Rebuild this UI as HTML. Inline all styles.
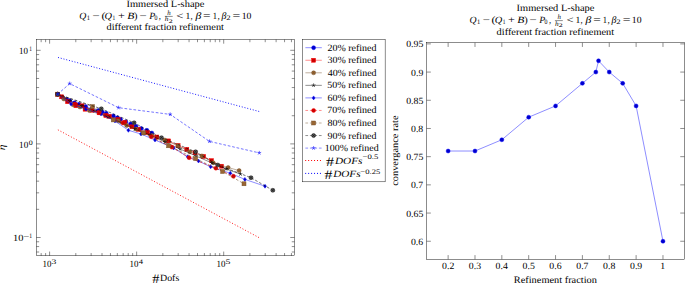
<!DOCTYPE html>
<html><head><meta charset="utf-8"><style>
html,body{margin:0;padding:0;background:#fff;}
svg{display:block;}
text{fill:#000;font-family:"Liberation Serif",serif;text-rendering:geometricPrecision;}
</style></head><body>
<svg width="685" height="283" viewBox="0 0 685 283">
<line x1="57.9" y1="129.8" x2="259.0" y2="237.6" stroke="#ff0000" stroke-width="1.0" stroke-opacity="0.9" stroke-dasharray="1.0 1.95"/>
<line x1="58.0" y1="57.45" x2="259.2" y2="111.5" stroke="#0000ff" stroke-width="1.0" stroke-opacity="0.9" stroke-dasharray="1.0 1.84"/>
<polyline points="57.7,94.2 62.5,97.3 66.5,99.3 69.7,100.6 74.5,102.8 78.9,104.3 85.6,106.6 92,108.7 98.2,110.6 102.2,111.9 106.2,113.2 113.3,115.9 117.3,117.8 120.4,119.3 125.8,121.8 130.6,124.1 135.9,126.3 141.2,128.5 146.9,130.3 151.8,133" fill="none" stroke="#0000ff" stroke-width="0.45" />
<circle cx="57.7" cy="94.2" r="2.0" fill="#0000cc" stroke="#0000ff" stroke-width="0.45"/>
<circle cx="62.5" cy="97.3" r="2.0" fill="#0000cc" stroke="#0000ff" stroke-width="0.45"/>
<circle cx="66.5" cy="99.3" r="2.0" fill="#0000cc" stroke="#0000ff" stroke-width="0.45"/>
<circle cx="69.7" cy="100.6" r="2.0" fill="#0000cc" stroke="#0000ff" stroke-width="0.45"/>
<circle cx="74.5" cy="102.8" r="2.0" fill="#0000cc" stroke="#0000ff" stroke-width="0.45"/>
<circle cx="78.9" cy="104.3" r="2.0" fill="#0000cc" stroke="#0000ff" stroke-width="0.45"/>
<circle cx="85.6" cy="106.6" r="2.0" fill="#0000cc" stroke="#0000ff" stroke-width="0.45"/>
<circle cx="92" cy="108.7" r="2.0" fill="#0000cc" stroke="#0000ff" stroke-width="0.45"/>
<circle cx="98.2" cy="110.6" r="2.0" fill="#0000cc" stroke="#0000ff" stroke-width="0.45"/>
<circle cx="102.2" cy="111.9" r="2.0" fill="#0000cc" stroke="#0000ff" stroke-width="0.45"/>
<circle cx="106.2" cy="113.2" r="2.0" fill="#0000cc" stroke="#0000ff" stroke-width="0.45"/>
<circle cx="113.3" cy="115.9" r="2.0" fill="#0000cc" stroke="#0000ff" stroke-width="0.45"/>
<circle cx="117.3" cy="117.8" r="2.0" fill="#0000cc" stroke="#0000ff" stroke-width="0.45"/>
<circle cx="120.4" cy="119.3" r="2.0" fill="#0000cc" stroke="#0000ff" stroke-width="0.45"/>
<circle cx="125.8" cy="121.8" r="2.0" fill="#0000cc" stroke="#0000ff" stroke-width="0.45"/>
<circle cx="130.6" cy="124.1" r="2.0" fill="#0000cc" stroke="#0000ff" stroke-width="0.45"/>
<circle cx="135.9" cy="126.3" r="2.0" fill="#0000cc" stroke="#0000ff" stroke-width="0.45"/>
<circle cx="141.2" cy="128.5" r="2.0" fill="#0000cc" stroke="#0000ff" stroke-width="0.45"/>
<circle cx="146.9" cy="130.3" r="2.0" fill="#0000cc" stroke="#0000ff" stroke-width="0.45"/>
<circle cx="151.8" cy="133" r="2.0" fill="#0000cc" stroke="#0000ff" stroke-width="0.45"/>
<polyline points="57.7,94.2 61.7,96.8 67.5,101.7 75.8,105.7 82,105.8 85.1,109.2 92,110.2 99.1,112.8 105.8,115.5 109.3,116.3 118.1,119.5 124.9,122.4 131.9,126.8 138.5,129.4 147.4,132.5 156.8,137 168.6,140.9 178.1,145.5 186.8,149.4 195,152.8 203.6,156.4 211.5,160.6 221.5,166.2" fill="none" stroke="#ff0000" stroke-width="0.45" />
<rect x="55.7" y="92.2" width="4.0" height="4.0" fill="#cc0000" stroke="#ff0000" stroke-width="0.45"/>
<rect x="59.7" y="94.8" width="4.0" height="4.0" fill="#cc0000" stroke="#ff0000" stroke-width="0.45"/>
<rect x="65.5" y="99.7" width="4.0" height="4.0" fill="#cc0000" stroke="#ff0000" stroke-width="0.45"/>
<rect x="73.8" y="103.7" width="4.0" height="4.0" fill="#cc0000" stroke="#ff0000" stroke-width="0.45"/>
<rect x="80" y="103.8" width="4.0" height="4.0" fill="#cc0000" stroke="#ff0000" stroke-width="0.45"/>
<rect x="83.1" y="107.2" width="4.0" height="4.0" fill="#cc0000" stroke="#ff0000" stroke-width="0.45"/>
<rect x="90" y="108.2" width="4.0" height="4.0" fill="#cc0000" stroke="#ff0000" stroke-width="0.45"/>
<rect x="97.1" y="110.8" width="4.0" height="4.0" fill="#cc0000" stroke="#ff0000" stroke-width="0.45"/>
<rect x="103.8" y="113.5" width="4.0" height="4.0" fill="#cc0000" stroke="#ff0000" stroke-width="0.45"/>
<rect x="107.3" y="114.3" width="4.0" height="4.0" fill="#cc0000" stroke="#ff0000" stroke-width="0.45"/>
<rect x="116.1" y="117.5" width="4.0" height="4.0" fill="#cc0000" stroke="#ff0000" stroke-width="0.45"/>
<rect x="122.9" y="120.4" width="4.0" height="4.0" fill="#cc0000" stroke="#ff0000" stroke-width="0.45"/>
<rect x="129.9" y="124.8" width="4.0" height="4.0" fill="#cc0000" stroke="#ff0000" stroke-width="0.45"/>
<rect x="136.5" y="127.4" width="4.0" height="4.0" fill="#cc0000" stroke="#ff0000" stroke-width="0.45"/>
<rect x="145.4" y="130.5" width="4.0" height="4.0" fill="#cc0000" stroke="#ff0000" stroke-width="0.45"/>
<rect x="154.8" y="135" width="4.0" height="4.0" fill="#cc0000" stroke="#ff0000" stroke-width="0.45"/>
<rect x="166.6" y="138.9" width="4.0" height="4.0" fill="#cc0000" stroke="#ff0000" stroke-width="0.45"/>
<rect x="176.1" y="143.5" width="4.0" height="4.0" fill="#cc0000" stroke="#ff0000" stroke-width="0.45"/>
<rect x="184.8" y="147.4" width="4.0" height="4.0" fill="#cc0000" stroke="#ff0000" stroke-width="0.45"/>
<rect x="193" y="150.8" width="4.0" height="4.0" fill="#cc0000" stroke="#ff0000" stroke-width="0.45"/>
<rect x="201.6" y="154.4" width="4.0" height="4.0" fill="#cc0000" stroke="#ff0000" stroke-width="0.45"/>
<rect x="209.5" y="158.6" width="4.0" height="4.0" fill="#cc0000" stroke="#ff0000" stroke-width="0.45"/>
<rect x="219.5" y="164.2" width="4.0" height="4.0" fill="#cc0000" stroke="#ff0000" stroke-width="0.45"/>
<polyline points="57.7,94.2 63.9,99 73.2,104.8 80,107 89.4,110.6 118.1,120.8 126.6,125.5 136,129 143.5,132.9 152,135.5 164.7,140 178,145.8 189.8,151.8 201.8,155.9 213.2,162.7 228.1,167.5 239.1,170.6" fill="none" stroke="#734d26" stroke-width="0.45" />
<circle cx="57.7" cy="94.2" r="2.0" fill="#996633" stroke="#734d26" stroke-width="0.45"/>
<path d="M56.29,92.79L59.11,95.61M56.29,95.61L59.11,92.79" stroke="#734d26" stroke-width="0.45"/>
<circle cx="63.9" cy="99" r="2.0" fill="#996633" stroke="#734d26" stroke-width="0.45"/>
<path d="M62.49,97.59L65.31,100.41M62.49,100.41L65.31,97.59" stroke="#734d26" stroke-width="0.45"/>
<circle cx="73.2" cy="104.8" r="2.0" fill="#996633" stroke="#734d26" stroke-width="0.45"/>
<path d="M71.79,103.39L74.61,106.21M71.79,106.21L74.61,103.39" stroke="#734d26" stroke-width="0.45"/>
<circle cx="80" cy="107" r="2.0" fill="#996633" stroke="#734d26" stroke-width="0.45"/>
<path d="M78.59,105.59L81.41,108.41M78.59,108.41L81.41,105.59" stroke="#734d26" stroke-width="0.45"/>
<circle cx="89.4" cy="110.6" r="2.0" fill="#996633" stroke="#734d26" stroke-width="0.45"/>
<path d="M87.99,109.19L90.81,112.01M87.99,112.01L90.81,109.19" stroke="#734d26" stroke-width="0.45"/>
<circle cx="118.1" cy="120.8" r="2.0" fill="#996633" stroke="#734d26" stroke-width="0.45"/>
<path d="M116.69,119.39L119.51,122.21M116.69,122.21L119.51,119.39" stroke="#734d26" stroke-width="0.45"/>
<circle cx="126.6" cy="125.5" r="2.0" fill="#996633" stroke="#734d26" stroke-width="0.45"/>
<path d="M125.19,124.09L128.01,126.91M125.19,126.91L128.01,124.09" stroke="#734d26" stroke-width="0.45"/>
<circle cx="136" cy="129" r="2.0" fill="#996633" stroke="#734d26" stroke-width="0.45"/>
<path d="M134.59,127.59L137.41,130.41M134.59,130.41L137.41,127.59" stroke="#734d26" stroke-width="0.45"/>
<circle cx="143.5" cy="132.9" r="2.0" fill="#996633" stroke="#734d26" stroke-width="0.45"/>
<path d="M142.09,131.49L144.91,134.31M142.09,134.31L144.91,131.49" stroke="#734d26" stroke-width="0.45"/>
<circle cx="152" cy="135.5" r="2.0" fill="#996633" stroke="#734d26" stroke-width="0.45"/>
<path d="M150.59,134.09L153.41,136.91M150.59,136.91L153.41,134.09" stroke="#734d26" stroke-width="0.45"/>
<circle cx="164.7" cy="140" r="2.0" fill="#996633" stroke="#734d26" stroke-width="0.45"/>
<path d="M163.29,138.59L166.11,141.41M163.29,141.41L166.11,138.59" stroke="#734d26" stroke-width="0.45"/>
<circle cx="178" cy="145.8" r="2.0" fill="#996633" stroke="#734d26" stroke-width="0.45"/>
<path d="M176.59,144.39L179.41,147.21M176.59,147.21L179.41,144.39" stroke="#734d26" stroke-width="0.45"/>
<circle cx="189.8" cy="151.8" r="2.0" fill="#996633" stroke="#734d26" stroke-width="0.45"/>
<path d="M188.39,150.39L191.21,153.21M188.39,153.21L191.21,150.39" stroke="#734d26" stroke-width="0.45"/>
<circle cx="201.8" cy="155.9" r="2.0" fill="#996633" stroke="#734d26" stroke-width="0.45"/>
<path d="M200.39,154.49L203.21,157.31M200.39,157.31L203.21,154.49" stroke="#734d26" stroke-width="0.45"/>
<circle cx="213.2" cy="162.7" r="2.0" fill="#996633" stroke="#734d26" stroke-width="0.45"/>
<path d="M211.79,161.29L214.61,164.11M211.79,164.11L214.61,161.29" stroke="#734d26" stroke-width="0.45"/>
<circle cx="228.1" cy="167.5" r="2.0" fill="#996633" stroke="#734d26" stroke-width="0.45"/>
<path d="M226.69,166.09L229.51,168.91M226.69,168.91L229.51,166.09" stroke="#734d26" stroke-width="0.45"/>
<circle cx="239.1" cy="170.6" r="2.0" fill="#996633" stroke="#734d26" stroke-width="0.45"/>
<path d="M237.69,169.19L240.51,172.01M237.69,172.01L240.51,169.19" stroke="#734d26" stroke-width="0.45"/>
<polyline points="57.7,94.2 70,101 82,106 95,111 108,117 121,122.5 135,129 150,135 165,142 180,149 196,156 212,163 226,169 240.5,174.1" fill="none" stroke="#000000" stroke-width="0.45" />
<path d="M57.7,94.2L57.7,92.2M57.7,94.2L55.8,93.58M57.7,94.2L56.52,95.82M57.7,94.2L58.88,95.82M57.7,94.2L59.6,93.58" stroke="#000000" stroke-width="0.5850000000000001" fill="none"/>
<path d="M70,101L70,99M70,101L68.1,100.38M70,101L68.82,102.62M70,101L71.18,102.62M70,101L71.9,100.38" stroke="#000000" stroke-width="0.5850000000000001" fill="none"/>
<path d="M82,106L82,104M82,106L80.1,105.38M82,106L80.82,107.62M82,106L83.18,107.62M82,106L83.9,105.38" stroke="#000000" stroke-width="0.5850000000000001" fill="none"/>
<path d="M95,111L95,109M95,111L93.1,110.38M95,111L93.82,112.62M95,111L96.18,112.62M95,111L96.9,110.38" stroke="#000000" stroke-width="0.5850000000000001" fill="none"/>
<path d="M108,117L108,115M108,117L106.1,116.38M108,117L106.82,118.62M108,117L109.18,118.62M108,117L109.9,116.38" stroke="#000000" stroke-width="0.5850000000000001" fill="none"/>
<path d="M121,122.5L121,120.5M121,122.5L119.1,121.88M121,122.5L119.82,124.12M121,122.5L122.18,124.12M121,122.5L122.9,121.88" stroke="#000000" stroke-width="0.5850000000000001" fill="none"/>
<path d="M135,129L135,127M135,129L133.1,128.38M135,129L133.82,130.62M135,129L136.18,130.62M135,129L136.9,128.38" stroke="#000000" stroke-width="0.5850000000000001" fill="none"/>
<path d="M150,135L150,133M150,135L148.1,134.38M150,135L148.82,136.62M150,135L151.18,136.62M150,135L151.9,134.38" stroke="#000000" stroke-width="0.5850000000000001" fill="none"/>
<path d="M165,142L165,140M165,142L163.1,141.38M165,142L163.82,143.62M165,142L166.18,143.62M165,142L166.9,141.38" stroke="#000000" stroke-width="0.5850000000000001" fill="none"/>
<path d="M180,149L180,147M180,149L178.1,148.38M180,149L178.82,150.62M180,149L181.18,150.62M180,149L181.9,148.38" stroke="#000000" stroke-width="0.5850000000000001" fill="none"/>
<path d="M196,156L196,154M196,156L194.1,155.38M196,156L194.82,157.62M196,156L197.18,157.62M196,156L197.9,155.38" stroke="#000000" stroke-width="0.5850000000000001" fill="none"/>
<path d="M212,163L212,161M212,163L210.1,162.38M212,163L210.82,164.62M212,163L213.18,164.62M212,163L213.9,162.38" stroke="#000000" stroke-width="0.5850000000000001" fill="none"/>
<path d="M226,169L226,167M226,169L224.1,168.38M226,169L224.82,170.62M226,169L227.18,170.62M226,169L227.9,168.38" stroke="#000000" stroke-width="0.5850000000000001" fill="none"/>
<path d="M240.5,174.1L240.5,172.1M240.5,174.1L238.6,173.48M240.5,174.1L239.32,175.72M240.5,174.1L241.68,175.72M240.5,174.1L242.4,173.48" stroke="#000000" stroke-width="0.5850000000000001" fill="none"/>
<polyline points="57.7,94.2 71,103.9 86,109 101,114 115,121 128.4,130.3 141,134 155,140 173.6,148 187.7,156.8 198.5,161 210.6,166.8 230.3,173.2 244.9,179.4 265,186.2" fill="none" stroke="#0000ff" stroke-width="0.45" />
<path d="M57.7,92.2L59.2,94.2L57.7,96.2L56.2,94.2Z" fill="#0000cc" stroke="#0000ff" stroke-width="0.45"/>
<path d="M71,101.9L72.5,103.9L71,105.9L69.5,103.9Z" fill="#0000cc" stroke="#0000ff" stroke-width="0.45"/>
<path d="M86,107L87.5,109L86,111L84.5,109Z" fill="#0000cc" stroke="#0000ff" stroke-width="0.45"/>
<path d="M101,112L102.5,114L101,116L99.5,114Z" fill="#0000cc" stroke="#0000ff" stroke-width="0.45"/>
<path d="M115,119L116.5,121L115,123L113.5,121Z" fill="#0000cc" stroke="#0000ff" stroke-width="0.45"/>
<path d="M128.4,128.3L129.9,130.3L128.4,132.3L126.9,130.3Z" fill="#0000cc" stroke="#0000ff" stroke-width="0.45"/>
<path d="M141,132L142.5,134L141,136L139.5,134Z" fill="#0000cc" stroke="#0000ff" stroke-width="0.45"/>
<path d="M155,138L156.5,140L155,142L153.5,140Z" fill="#0000cc" stroke="#0000ff" stroke-width="0.45"/>
<path d="M173.6,146L175.1,148L173.6,150L172.1,148Z" fill="#0000cc" stroke="#0000ff" stroke-width="0.45"/>
<path d="M187.7,154.8L189.2,156.8L187.7,158.8L186.2,156.8Z" fill="#0000cc" stroke="#0000ff" stroke-width="0.45"/>
<path d="M198.5,159L200,161L198.5,163L197,161Z" fill="#0000cc" stroke="#0000ff" stroke-width="0.45"/>
<path d="M210.6,164.8L212.1,166.8L210.6,168.8L209.1,166.8Z" fill="#0000cc" stroke="#0000ff" stroke-width="0.45"/>
<path d="M230.3,171.2L231.8,173.2L230.3,175.2L228.8,173.2Z" fill="#0000cc" stroke="#0000ff" stroke-width="0.45"/>
<path d="M244.9,177.4L246.4,179.4L244.9,181.4L243.4,179.4Z" fill="#0000cc" stroke="#0000ff" stroke-width="0.45"/>
<path d="M265,184.2L266.5,186.2L265,188.2L263.5,186.2Z" fill="#0000cc" stroke="#0000ff" stroke-width="0.45"/>
<polyline points="57.7,94.2 75,104 99.1,112.8 123,123 151.3,136.8 171.8,147.1 189.1,157.7 215.9,168.2 233.4,176.3" fill="none" stroke="#ff0000" stroke-width="0.55" stroke-dasharray="2.7 1.8"/>
<circle cx="57.7" cy="94.2" r="2.0" fill="#cc0000" stroke="#ff0000" stroke-width="0.45"/>
<circle cx="75" cy="104" r="2.0" fill="#cc0000" stroke="#ff0000" stroke-width="0.45"/>
<circle cx="99.1" cy="112.8" r="2.0" fill="#cc0000" stroke="#ff0000" stroke-width="0.45"/>
<circle cx="123" cy="123" r="2.0" fill="#cc0000" stroke="#ff0000" stroke-width="0.45"/>
<circle cx="151.3" cy="136.8" r="2.0" fill="#cc0000" stroke="#ff0000" stroke-width="0.45"/>
<circle cx="171.8" cy="147.1" r="2.0" fill="#cc0000" stroke="#ff0000" stroke-width="0.45"/>
<circle cx="189.1" cy="157.7" r="2.0" fill="#cc0000" stroke="#ff0000" stroke-width="0.45"/>
<circle cx="215.9" cy="168.2" r="2.0" fill="#cc0000" stroke="#ff0000" stroke-width="0.45"/>
<circle cx="233.4" cy="176.3" r="2.0" fill="#cc0000" stroke="#ff0000" stroke-width="0.45"/>
<polyline points="57.7,94.2 92.5,106.6 113.3,119.9 143.5,132.9 168.6,145.8 195.6,158.6 222.6,171.5 244,183.8" fill="none" stroke="#734d26" stroke-width="0.55" stroke-dasharray="2.7 1.8"/>
<rect x="55.7" y="92.2" width="4.0" height="4.0" fill="#996633" stroke="#734d26" stroke-width="0.45"/>
<rect x="90.5" y="104.6" width="4.0" height="4.0" fill="#996633" stroke="#734d26" stroke-width="0.45"/>
<rect x="111.3" y="117.9" width="4.0" height="4.0" fill="#996633" stroke="#734d26" stroke-width="0.45"/>
<rect x="141.5" y="130.9" width="4.0" height="4.0" fill="#996633" stroke="#734d26" stroke-width="0.45"/>
<rect x="166.6" y="143.8" width="4.0" height="4.0" fill="#996633" stroke="#734d26" stroke-width="0.45"/>
<rect x="193.6" y="156.6" width="4.0" height="4.0" fill="#996633" stroke="#734d26" stroke-width="0.45"/>
<rect x="220.6" y="169.5" width="4.0" height="4.0" fill="#996633" stroke="#734d26" stroke-width="0.45"/>
<rect x="242" y="181.8" width="4.0" height="4.0" fill="#996633" stroke="#734d26" stroke-width="0.45"/>
<polyline points="57.7,94.2 101.3,108.8 134.1,122.8 161.5,137.7 195.6,151.8 217.7,165 251,177.7 272.8,190.3" fill="none" stroke="#000000" stroke-width="0.55" stroke-dasharray="2.7 1.8"/>
<circle cx="57.7" cy="94.2" r="2.0" fill="#595959" stroke="#000000" stroke-width="0.45"/>
<path d="M56.29,92.79L59.11,95.61M56.29,95.61L59.11,92.79" stroke="#000000" stroke-width="0.45"/>
<circle cx="101.3" cy="108.8" r="2.0" fill="#595959" stroke="#000000" stroke-width="0.45"/>
<path d="M99.89,107.39L102.71,110.21M99.89,110.21L102.71,107.39" stroke="#000000" stroke-width="0.45"/>
<circle cx="134.1" cy="122.8" r="2.0" fill="#595959" stroke="#000000" stroke-width="0.45"/>
<path d="M132.69,121.39L135.51,124.21M132.69,124.21L135.51,121.39" stroke="#000000" stroke-width="0.45"/>
<circle cx="161.5" cy="137.7" r="2.0" fill="#595959" stroke="#000000" stroke-width="0.45"/>
<path d="M160.09,136.29L162.91,139.11M160.09,139.11L162.91,136.29" stroke="#000000" stroke-width="0.45"/>
<circle cx="195.6" cy="151.8" r="2.0" fill="#595959" stroke="#000000" stroke-width="0.45"/>
<path d="M194.19,150.39L197.01,153.21M194.19,153.21L197.01,150.39" stroke="#000000" stroke-width="0.45"/>
<circle cx="217.7" cy="165" r="2.0" fill="#595959" stroke="#000000" stroke-width="0.45"/>
<path d="M216.29,163.59L219.11,166.41M216.29,166.41L219.11,163.59" stroke="#000000" stroke-width="0.45"/>
<circle cx="251" cy="177.7" r="2.0" fill="#595959" stroke="#000000" stroke-width="0.45"/>
<path d="M249.59,176.29L252.41,179.11M249.59,179.11L252.41,176.29" stroke="#000000" stroke-width="0.45"/>
<circle cx="272.8" cy="190.3" r="2.0" fill="#595959" stroke="#000000" stroke-width="0.45"/>
<path d="M271.39,188.89L274.21,191.71M271.39,191.71L274.21,188.89" stroke="#000000" stroke-width="0.45"/>
<polyline points="57.7,94.2 69.7,83.6 118.6,107.7 170.2,114.4 209.5,141.4 259.3,152.9" fill="none" stroke="#0000ff" stroke-width="0.55" stroke-dasharray="2.7 1.8"/>
<path d="M57.7,94.2L57.7,92.2M57.7,94.2L55.8,93.58M57.7,94.2L56.52,95.82M57.7,94.2L58.88,95.82M57.7,94.2L59.6,93.58" stroke="#0000ff" stroke-width="0.5850000000000001" fill="none"/>
<path d="M69.7,83.6L69.7,81.6M69.7,83.6L67.8,82.98M69.7,83.6L68.52,85.22M69.7,83.6L70.88,85.22M69.7,83.6L71.6,82.98" stroke="#0000ff" stroke-width="0.5850000000000001" fill="none"/>
<path d="M118.6,107.7L118.6,105.7M118.6,107.7L116.7,107.08M118.6,107.7L117.42,109.32M118.6,107.7L119.78,109.32M118.6,107.7L120.5,107.08" stroke="#0000ff" stroke-width="0.5850000000000001" fill="none"/>
<path d="M170.2,114.4L170.2,112.4M170.2,114.4L168.3,113.78M170.2,114.4L169.02,116.02M170.2,114.4L171.38,116.02M170.2,114.4L172.1,113.78" stroke="#0000ff" stroke-width="0.5850000000000001" fill="none"/>
<path d="M209.5,141.4L209.5,139.4M209.5,141.4L207.6,140.78M209.5,141.4L208.32,143.02M209.5,141.4L210.68,143.02M209.5,141.4L211.4,140.78" stroke="#0000ff" stroke-width="0.5850000000000001" fill="none"/>
<path d="M259.3,152.9L259.3,150.9M259.3,152.9L257.4,152.28M259.3,152.9L258.12,154.52M259.3,152.9L260.48,154.52M259.3,152.9L261.2,152.28" stroke="#0000ff" stroke-width="0.5850000000000001" fill="none"/>
<line x1="41.16" y1="255.75" x2="41.16" y2="253.05" stroke="#000" stroke-width="0.45" />
<line x1="41.16" y1="39.5" x2="41.16" y2="42.2" stroke="#000" stroke-width="0.45" />
<line x1="45.62" y1="255.75" x2="45.62" y2="253.05" stroke="#000" stroke-width="0.45" />
<line x1="45.62" y1="39.5" x2="45.62" y2="42.2" stroke="#000" stroke-width="0.45" />
<line x1="49.6" y1="255.75" x2="49.6" y2="251.55" stroke="#000" stroke-width="0.45" />
<line x1="49.6" y1="39.5" x2="49.6" y2="43.7" stroke="#000" stroke-width="0.45" />
<line x1="75.8" y1="255.75" x2="75.8" y2="253.05" stroke="#000" stroke-width="0.45" />
<line x1="75.8" y1="39.5" x2="75.8" y2="42.2" stroke="#000" stroke-width="0.45" />
<line x1="91.13" y1="255.75" x2="91.13" y2="253.05" stroke="#000" stroke-width="0.45" />
<line x1="91.13" y1="39.5" x2="91.13" y2="42.2" stroke="#000" stroke-width="0.45" />
<line x1="102.01" y1="255.75" x2="102.01" y2="253.05" stroke="#000" stroke-width="0.45" />
<line x1="102.01" y1="39.5" x2="102.01" y2="42.2" stroke="#000" stroke-width="0.45" />
<line x1="110.45" y1="255.75" x2="110.45" y2="253.05" stroke="#000" stroke-width="0.45" />
<line x1="110.45" y1="39.5" x2="110.45" y2="42.2" stroke="#000" stroke-width="0.45" />
<line x1="117.34" y1="255.75" x2="117.34" y2="253.05" stroke="#000" stroke-width="0.45" />
<line x1="117.34" y1="39.5" x2="117.34" y2="42.2" stroke="#000" stroke-width="0.45" />
<line x1="123.17" y1="255.75" x2="123.17" y2="253.05" stroke="#000" stroke-width="0.45" />
<line x1="123.17" y1="39.5" x2="123.17" y2="42.2" stroke="#000" stroke-width="0.45" />
<line x1="128.21" y1="255.75" x2="128.21" y2="253.05" stroke="#000" stroke-width="0.45" />
<line x1="128.21" y1="39.5" x2="128.21" y2="42.2" stroke="#000" stroke-width="0.45" />
<line x1="132.67" y1="255.75" x2="132.67" y2="253.05" stroke="#000" stroke-width="0.45" />
<line x1="132.67" y1="39.5" x2="132.67" y2="42.2" stroke="#000" stroke-width="0.45" />
<line x1="136.65" y1="255.75" x2="136.65" y2="251.55" stroke="#000" stroke-width="0.45" />
<line x1="136.65" y1="39.5" x2="136.65" y2="43.7" stroke="#000" stroke-width="0.45" />
<line x1="162.85" y1="255.75" x2="162.85" y2="253.05" stroke="#000" stroke-width="0.45" />
<line x1="162.85" y1="39.5" x2="162.85" y2="42.2" stroke="#000" stroke-width="0.45" />
<line x1="178.18" y1="255.75" x2="178.18" y2="253.05" stroke="#000" stroke-width="0.45" />
<line x1="178.18" y1="39.5" x2="178.18" y2="42.2" stroke="#000" stroke-width="0.45" />
<line x1="189.06" y1="255.75" x2="189.06" y2="253.05" stroke="#000" stroke-width="0.45" />
<line x1="189.06" y1="39.5" x2="189.06" y2="42.2" stroke="#000" stroke-width="0.45" />
<line x1="197.5" y1="255.75" x2="197.5" y2="253.05" stroke="#000" stroke-width="0.45" />
<line x1="197.5" y1="39.5" x2="197.5" y2="42.2" stroke="#000" stroke-width="0.45" />
<line x1="204.39" y1="255.75" x2="204.39" y2="253.05" stroke="#000" stroke-width="0.45" />
<line x1="204.39" y1="39.5" x2="204.39" y2="42.2" stroke="#000" stroke-width="0.45" />
<line x1="210.22" y1="255.75" x2="210.22" y2="253.05" stroke="#000" stroke-width="0.45" />
<line x1="210.22" y1="39.5" x2="210.22" y2="42.2" stroke="#000" stroke-width="0.45" />
<line x1="215.26" y1="255.75" x2="215.26" y2="253.05" stroke="#000" stroke-width="0.45" />
<line x1="215.26" y1="39.5" x2="215.26" y2="42.2" stroke="#000" stroke-width="0.45" />
<line x1="219.72" y1="255.75" x2="219.72" y2="253.05" stroke="#000" stroke-width="0.45" />
<line x1="219.72" y1="39.5" x2="219.72" y2="42.2" stroke="#000" stroke-width="0.45" />
<line x1="223.7" y1="255.75" x2="223.7" y2="251.55" stroke="#000" stroke-width="0.45" />
<line x1="223.7" y1="39.5" x2="223.7" y2="43.7" stroke="#000" stroke-width="0.45" />
<line x1="249.9" y1="255.75" x2="249.9" y2="253.05" stroke="#000" stroke-width="0.45" />
<line x1="249.9" y1="39.5" x2="249.9" y2="42.2" stroke="#000" stroke-width="0.45" />
<line x1="265.23" y1="255.75" x2="265.23" y2="253.05" stroke="#000" stroke-width="0.45" />
<line x1="265.23" y1="39.5" x2="265.23" y2="42.2" stroke="#000" stroke-width="0.45" />
<line x1="276.11" y1="255.75" x2="276.11" y2="253.05" stroke="#000" stroke-width="0.45" />
<line x1="276.11" y1="39.5" x2="276.11" y2="42.2" stroke="#000" stroke-width="0.45" />
<line x1="284.55" y1="255.75" x2="284.55" y2="253.05" stroke="#000" stroke-width="0.45" />
<line x1="284.55" y1="39.5" x2="284.55" y2="42.2" stroke="#000" stroke-width="0.45" />
<line x1="291.44" y1="255.75" x2="291.44" y2="253.05" stroke="#000" stroke-width="0.45" />
<line x1="291.44" y1="39.5" x2="291.44" y2="42.2" stroke="#000" stroke-width="0.45" />
<line x1="36.45" y1="252" x2="39.15" y2="252" stroke="#000" stroke-width="0.45" />
<line x1="294.45" y1="252" x2="291.75" y2="252" stroke="#000" stroke-width="0.45" />
<line x1="36.45" y1="246.57" x2="39.15" y2="246.57" stroke="#000" stroke-width="0.45" />
<line x1="294.45" y1="246.57" x2="291.75" y2="246.57" stroke="#000" stroke-width="0.45" />
<line x1="36.45" y1="241.78" x2="39.15" y2="241.78" stroke="#000" stroke-width="0.45" />
<line x1="294.45" y1="241.78" x2="291.75" y2="241.78" stroke="#000" stroke-width="0.45" />
<line x1="36.45" y1="237.5" x2="40.65" y2="237.5" stroke="#000" stroke-width="0.45" />
<line x1="294.45" y1="237.5" x2="290.25" y2="237.5" stroke="#000" stroke-width="0.45" />
<line x1="36.45" y1="209.32" x2="39.15" y2="209.32" stroke="#000" stroke-width="0.45" />
<line x1="294.45" y1="209.32" x2="291.75" y2="209.32" stroke="#000" stroke-width="0.45" />
<line x1="36.45" y1="192.84" x2="39.15" y2="192.84" stroke="#000" stroke-width="0.45" />
<line x1="294.45" y1="192.84" x2="291.75" y2="192.84" stroke="#000" stroke-width="0.45" />
<line x1="36.45" y1="181.15" x2="39.15" y2="181.15" stroke="#000" stroke-width="0.45" />
<line x1="294.45" y1="181.15" x2="291.75" y2="181.15" stroke="#000" stroke-width="0.45" />
<line x1="36.45" y1="172.08" x2="39.15" y2="172.08" stroke="#000" stroke-width="0.45" />
<line x1="294.45" y1="172.08" x2="291.75" y2="172.08" stroke="#000" stroke-width="0.45" />
<line x1="36.45" y1="164.67" x2="39.15" y2="164.67" stroke="#000" stroke-width="0.45" />
<line x1="294.45" y1="164.67" x2="291.75" y2="164.67" stroke="#000" stroke-width="0.45" />
<line x1="36.45" y1="158.4" x2="39.15" y2="158.4" stroke="#000" stroke-width="0.45" />
<line x1="294.45" y1="158.4" x2="291.75" y2="158.4" stroke="#000" stroke-width="0.45" />
<line x1="36.45" y1="152.97" x2="39.15" y2="152.97" stroke="#000" stroke-width="0.45" />
<line x1="294.45" y1="152.97" x2="291.75" y2="152.97" stroke="#000" stroke-width="0.45" />
<line x1="36.45" y1="148.18" x2="39.15" y2="148.18" stroke="#000" stroke-width="0.45" />
<line x1="294.45" y1="148.18" x2="291.75" y2="148.18" stroke="#000" stroke-width="0.45" />
<line x1="36.45" y1="143.9" x2="40.65" y2="143.9" stroke="#000" stroke-width="0.45" />
<line x1="294.45" y1="143.9" x2="290.25" y2="143.9" stroke="#000" stroke-width="0.45" />
<line x1="36.45" y1="115.72" x2="39.15" y2="115.72" stroke="#000" stroke-width="0.45" />
<line x1="294.45" y1="115.72" x2="291.75" y2="115.72" stroke="#000" stroke-width="0.45" />
<line x1="36.45" y1="99.24" x2="39.15" y2="99.24" stroke="#000" stroke-width="0.45" />
<line x1="294.45" y1="99.24" x2="291.75" y2="99.24" stroke="#000" stroke-width="0.45" />
<line x1="36.45" y1="87.55" x2="39.15" y2="87.55" stroke="#000" stroke-width="0.45" />
<line x1="294.45" y1="87.55" x2="291.75" y2="87.55" stroke="#000" stroke-width="0.45" />
<line x1="36.45" y1="78.48" x2="39.15" y2="78.48" stroke="#000" stroke-width="0.45" />
<line x1="294.45" y1="78.48" x2="291.75" y2="78.48" stroke="#000" stroke-width="0.45" />
<line x1="36.45" y1="71.07" x2="39.15" y2="71.07" stroke="#000" stroke-width="0.45" />
<line x1="294.45" y1="71.07" x2="291.75" y2="71.07" stroke="#000" stroke-width="0.45" />
<line x1="36.45" y1="64.8" x2="39.15" y2="64.8" stroke="#000" stroke-width="0.45" />
<line x1="294.45" y1="64.8" x2="291.75" y2="64.8" stroke="#000" stroke-width="0.45" />
<line x1="36.45" y1="59.37" x2="39.15" y2="59.37" stroke="#000" stroke-width="0.45" />
<line x1="294.45" y1="59.37" x2="291.75" y2="59.37" stroke="#000" stroke-width="0.45" />
<line x1="36.45" y1="54.58" x2="39.15" y2="54.58" stroke="#000" stroke-width="0.45" />
<line x1="294.45" y1="54.58" x2="291.75" y2="54.58" stroke="#000" stroke-width="0.45" />
<line x1="36.45" y1="50.3" x2="40.65" y2="50.3" stroke="#000" stroke-width="0.45" />
<line x1="294.45" y1="50.3" x2="290.25" y2="50.3" stroke="#000" stroke-width="0.45" />
<rect x="36.45" y="39.5" width="258" height="216.25" fill="none" stroke="#000" stroke-width="0.45"/>
<text x="42.52" y="267.3" font-size="9.6" textLength="8.91" lengthAdjust="spacingAndGlyphs" >10</text>
<text x="51.44" y="263.6" font-size="6.9" textLength="4.85" lengthAdjust="spacingAndGlyphs" >3</text>
<text x="129.57" y="267.3" font-size="9.6" textLength="8.91" lengthAdjust="spacingAndGlyphs" >10</text>
<text x="138.78" y="263.6" font-size="6.9" textLength="4.3" lengthAdjust="spacingAndGlyphs" >4</text>
<text x="216.62" y="267.3" font-size="9.6" textLength="8.91" lengthAdjust="spacingAndGlyphs" >10</text>
<text x="225.43" y="263.6" font-size="6.9" textLength="4.97" lengthAdjust="spacingAndGlyphs" >5</text>
<text x="19.12" y="54.3" font-size="9.6" textLength="8.91" lengthAdjust="spacingAndGlyphs" >10</text>
<text x="29.33" y="50.6" font-size="6.9" textLength="2.7" lengthAdjust="spacingAndGlyphs" >1</text>
<text x="19.1" y="147.9" font-size="9.6" textLength="9.14" lengthAdjust="spacingAndGlyphs" >10</text>
<text x="28.7" y="144.7" font-size="6.9" textLength="4" lengthAdjust="spacingAndGlyphs" >0</text>
<text x="13.09" y="241.3" font-size="9.6" textLength="10.4" lengthAdjust="spacingAndGlyphs" >10</text>
<text x="23.26" y="238.7" font-size="6.9" textLength="6.06" lengthAdjust="spacingAndGlyphs" >−</text>
<text x="29.2" y="237.9" font-size="6.9" textLength="2.84" lengthAdjust="spacingAndGlyphs" >1</text>
<text x="152.25" y="282.5" font-size="13.0" textLength="7.2" lengthAdjust="spacingAndGlyphs" >#</text>
<text x="160" y="280.8" font-size="9.6" textLength="19.26" lengthAdjust="spacingAndGlyphs" >Dofs</text>
<text transform="translate(5.3,150.2) rotate(-90)" x="0" y="0" font-size="9.6" font-style="italic" textLength="5.67" lengthAdjust="spacingAndGlyphs">η</text>
<rect x="302.4" y="39.75" width="82.75" height="142.05" fill="#fff" stroke="#000" stroke-width="0.45"/>
<line x1="305.4" y1="47.7" x2="321.8" y2="47.7" stroke="#0000ff" stroke-width="0.45" />
<circle cx="313.6" cy="47.7" r="2.0" fill="#0000cc" stroke="#0000ff" stroke-width="0.45"/>
<text x="327.45" y="50.7" font-size="9.6" textLength="49.07" lengthAdjust="spacingAndGlyphs" >20% refined</text>
<line x1="305.4" y1="60.25" x2="321.8" y2="60.25" stroke="#ff0000" stroke-width="0.45" />
<rect x="311.6" y="58.25" width="4.0" height="4.0" fill="#cc0000" stroke="#ff0000" stroke-width="0.45"/>
<text x="327.43" y="63.25" font-size="9.6" textLength="49.1" lengthAdjust="spacingAndGlyphs" >30% refined</text>
<line x1="305.4" y1="72.8" x2="321.8" y2="72.8" stroke="#734d26" stroke-width="0.45" />
<circle cx="313.6" cy="72.8" r="2.0" fill="#996633" stroke="#734d26" stroke-width="0.45"/>
<path d="M312.19,71.39L315.01,74.21M312.19,74.21L315.01,71.39" stroke="#734d26" stroke-width="0.45"/>
<text x="327.7" y="75.8" font-size="9.6" textLength="48.82" lengthAdjust="spacingAndGlyphs" >40% refined</text>
<line x1="305.4" y1="85.35" x2="321.8" y2="85.35" stroke="#000000" stroke-width="0.45" />
<path d="M313.6,85.35L313.6,83.35M313.6,85.35L311.7,84.73M313.6,85.35L312.42,86.97M313.6,85.35L314.78,86.97M313.6,85.35L315.5,84.73" stroke="#000000" stroke-width="0.5850000000000001" fill="none"/>
<text x="327.32" y="88.35" font-size="9.6" textLength="49.2" lengthAdjust="spacingAndGlyphs" >50% refined</text>
<line x1="305.4" y1="97.9" x2="321.8" y2="97.9" stroke="#0000ff" stroke-width="0.45" />
<path d="M313.6,95.9L315.1,97.9L313.6,99.9L312.1,97.9Z" fill="#0000cc" stroke="#0000ff" stroke-width="0.45"/>
<text x="327.48" y="100.9" font-size="9.6" textLength="49.04" lengthAdjust="spacingAndGlyphs" >60% refined</text>
<line x1="305.4" y1="110.45" x2="321.8" y2="110.45" stroke="#ff0000" stroke-width="0.45" stroke-dasharray="2.7 1.8"/>
<circle cx="313.6" cy="110.45" r="2.0" fill="#cc0000" stroke="#ff0000" stroke-width="0.45"/>
<text x="327.25" y="113.45" font-size="9.6" textLength="49.27" lengthAdjust="spacingAndGlyphs" >70% refined</text>
<line x1="305.4" y1="123" x2="321.8" y2="123" stroke="#734d26" stroke-width="0.45" stroke-dasharray="2.7 1.8"/>
<rect x="311.6" y="121" width="4.0" height="4.0" fill="#996633" stroke="#734d26" stroke-width="0.45"/>
<text x="327.53" y="126" font-size="9.6" textLength="48.99" lengthAdjust="spacingAndGlyphs" >80% refined</text>
<line x1="305.4" y1="135.55" x2="321.8" y2="135.55" stroke="#000000" stroke-width="0.45" stroke-dasharray="2.7 1.8"/>
<circle cx="313.6" cy="135.55" r="2.0" fill="#595959" stroke="#000000" stroke-width="0.45"/>
<path d="M312.19,134.14L315.01,136.96M312.19,136.96L315.01,134.14" stroke="#000000" stroke-width="0.45"/>
<text x="327.58" y="138.55" font-size="9.6" textLength="48.94" lengthAdjust="spacingAndGlyphs" >90% refined</text>
<line x1="305.4" y1="148.1" x2="321.8" y2="148.1" stroke="#0000ff" stroke-width="0.45" stroke-dasharray="2.7 1.8"/>
<path d="M313.6,148.1L313.6,146.1M313.6,148.1L311.7,147.48M313.6,148.1L312.42,149.72M313.6,148.1L314.78,149.72M313.6,148.1L315.5,147.48" stroke="#0000ff" stroke-width="0.5850000000000001" fill="none"/>
<text x="324.83" y="151.1" font-size="9.6" textLength="53.79" lengthAdjust="spacingAndGlyphs" >100% refined</text>
<line x1="305.2" y1="160.5" x2="321.5" y2="160.5" stroke="#ff0000" stroke-width="1" stroke-dasharray="1 1.95"/>
<text x="326.12" y="165.7" font-size="13.0" textLength="8.06" lengthAdjust="spacingAndGlyphs" >#</text>
<text x="335.01" y="164.1" font-size="9.6" font-style="italic" textLength="27.45" lengthAdjust="spacingAndGlyphs" >DOFs</text>
<text x="362.57" y="158.9" font-size="6.9" textLength="15.77" lengthAdjust="spacingAndGlyphs" >−0.5</text>
<line x1="305.2" y1="173.4" x2="321.5" y2="173.4" stroke="#0000ff" stroke-width="1" stroke-dasharray="1 1.95"/>
<text x="324.52" y="178.6" font-size="13.0" textLength="7.96" lengthAdjust="spacingAndGlyphs" >#</text>
<text x="333.21" y="177" font-size="9.6" font-style="italic" textLength="27.35" lengthAdjust="spacingAndGlyphs" >DOFs</text>
<text x="360.37" y="174.1" font-size="6.9" textLength="19.86" lengthAdjust="spacingAndGlyphs" >−0.25</text>
<text x="126.54" y="6.7" font-size="9.6" textLength="77.82" lengthAdjust="spacingAndGlyphs" >Immersed L-shape</text>
<text x="106.54" y="30.3" font-size="9.6" textLength="117.41" lengthAdjust="spacingAndGlyphs" >different fraction refinement</text>
<text x="79.36" y="18.6" font-size="9.6" font-style="italic" textLength="7.03" lengthAdjust="spacingAndGlyphs" >Q</text>
<text x="86.83" y="19.7" font-size="6.9" textLength="3.26" lengthAdjust="spacingAndGlyphs" >1</text>
<text x="92.57" y="18.6" font-size="9.6" textLength="7.16" lengthAdjust="spacingAndGlyphs" >−</text>
<text x="101.47" y="18.6" font-size="9.6" textLength="3.92" lengthAdjust="spacingAndGlyphs" >(</text>
<text x="104.63" y="18.6" font-size="9.6" font-style="italic" textLength="7.47" lengthAdjust="spacingAndGlyphs" >Q</text>
<text x="112.53" y="19.7" font-size="6.9" textLength="2.7" lengthAdjust="spacingAndGlyphs" >1</text>
<text x="117.99" y="18.6" font-size="9.6" textLength="6.91" lengthAdjust="spacingAndGlyphs" >+</text>
<text x="127.28" y="18.6" font-size="9.6" font-style="italic" textLength="7.06" lengthAdjust="spacingAndGlyphs" >B</text>
<text x="134.06" y="18.6" font-size="9.6" textLength="3.49" lengthAdjust="spacingAndGlyphs" >)</text>
<text x="139.47" y="18.6" font-size="9.6" textLength="7.16" lengthAdjust="spacingAndGlyphs" >−</text>
<text x="149.25" y="18.6" font-size="9.6" font-style="italic" textLength="6.01" lengthAdjust="spacingAndGlyphs" >P</text>
<text x="154.48" y="19.7" font-size="6.9" textLength="2.94" lengthAdjust="spacingAndGlyphs" >0</text>
<text x="158.77" y="18.6" font-size="9.6" textLength="2.17" lengthAdjust="spacingAndGlyphs" >,</text>
<text x="167.34" y="15.1" font-size="6.9" font-style="italic" textLength="3.45" lengthAdjust="spacingAndGlyphs" >h</text>
<line x1="164.8" y1="16.4" x2="172.7" y2="16.4" stroke="#000" stroke-width="0.45"/>
<text x="164.82" y="21.3" font-size="6.9" font-style="italic" textLength="3.69" lengthAdjust="spacingAndGlyphs" >h</text>
<text x="168.42" y="22.6" font-size="5.2" textLength="4.25" lengthAdjust="spacingAndGlyphs" >2</text>
<text x="176.37" y="18.6" font-size="9.6" textLength="7.16" lengthAdjust="spacingAndGlyphs" >&lt;</text>
<text x="185.46" y="18.6" font-size="9.6" textLength="4.82" lengthAdjust="spacingAndGlyphs" >1</text>
<text x="190.38" y="18.6" font-size="9.6" textLength="2.17" lengthAdjust="spacingAndGlyphs" >,</text>
<text x="195.48" y="18.6" font-size="9.6" font-style="italic" textLength="5.83" lengthAdjust="spacingAndGlyphs" >β</text>
<text x="203.13" y="18.6" font-size="9.6" textLength="7.52" lengthAdjust="spacingAndGlyphs" >=</text>
<text x="212.66" y="18.6" font-size="9.6" textLength="4.26" lengthAdjust="spacingAndGlyphs" >1</text>
<text x="217.45" y="18.6" font-size="9.6" textLength="2.33" lengthAdjust="spacingAndGlyphs" >,</text>
<text x="221.45" y="18.6" font-size="9.6" font-style="italic" textLength="4.86" lengthAdjust="spacingAndGlyphs" >β</text>
<text x="226.21" y="19.8" font-size="6.9" textLength="4.38" lengthAdjust="spacingAndGlyphs" >2</text>
<text x="232.61" y="18.6" font-size="9.6" textLength="7.76" lengthAdjust="spacingAndGlyphs" >=</text>
<text x="241.75" y="18.6" font-size="9.6" textLength="9.71" lengthAdjust="spacingAndGlyphs" >10</text>
<text x="516.64" y="10.9" font-size="9.6" textLength="77.82" lengthAdjust="spacingAndGlyphs" >Immersed L-shape</text>
<text x="496.64" y="34.5" font-size="9.6" textLength="117.41" lengthAdjust="spacingAndGlyphs" >different fraction refinement</text>
<text x="469.46" y="22.8" font-size="9.6" font-style="italic" textLength="7.03" lengthAdjust="spacingAndGlyphs" >Q</text>
<text x="476.93" y="23.9" font-size="6.9" textLength="3.26" lengthAdjust="spacingAndGlyphs" >1</text>
<text x="482.67" y="22.8" font-size="9.6" textLength="7.16" lengthAdjust="spacingAndGlyphs" >−</text>
<text x="491.57" y="22.8" font-size="9.6" textLength="3.92" lengthAdjust="spacingAndGlyphs" >(</text>
<text x="494.73" y="22.8" font-size="9.6" font-style="italic" textLength="7.47" lengthAdjust="spacingAndGlyphs" >Q</text>
<text x="502.63" y="23.9" font-size="6.9" textLength="2.7" lengthAdjust="spacingAndGlyphs" >1</text>
<text x="508.09" y="22.8" font-size="9.6" textLength="6.91" lengthAdjust="spacingAndGlyphs" >+</text>
<text x="517.38" y="22.8" font-size="9.6" font-style="italic" textLength="7.06" lengthAdjust="spacingAndGlyphs" >B</text>
<text x="524.16" y="22.8" font-size="9.6" textLength="3.49" lengthAdjust="spacingAndGlyphs" >)</text>
<text x="529.57" y="22.8" font-size="9.6" textLength="7.16" lengthAdjust="spacingAndGlyphs" >−</text>
<text x="539.35" y="22.8" font-size="9.6" font-style="italic" textLength="6.01" lengthAdjust="spacingAndGlyphs" >P</text>
<text x="544.58" y="23.9" font-size="6.9" textLength="2.94" lengthAdjust="spacingAndGlyphs" >0</text>
<text x="548.88" y="22.8" font-size="9.6" textLength="2.17" lengthAdjust="spacingAndGlyphs" >,</text>
<text x="557.44" y="19.3" font-size="6.9" font-style="italic" textLength="3.45" lengthAdjust="spacingAndGlyphs" >h</text>
<line x1="554.9" y1="20.6" x2="562.8" y2="20.6" stroke="#000" stroke-width="0.45"/>
<text x="554.92" y="25.5" font-size="6.9" font-style="italic" textLength="3.69" lengthAdjust="spacingAndGlyphs" >h</text>
<text x="558.52" y="26.8" font-size="5.2" textLength="4.25" lengthAdjust="spacingAndGlyphs" >2</text>
<text x="566.47" y="22.8" font-size="9.6" textLength="7.16" lengthAdjust="spacingAndGlyphs" >&lt;</text>
<text x="575.56" y="22.8" font-size="9.6" textLength="4.82" lengthAdjust="spacingAndGlyphs" >1</text>
<text x="580.47" y="22.8" font-size="9.6" textLength="2.17" lengthAdjust="spacingAndGlyphs" >,</text>
<text x="585.58" y="22.8" font-size="9.6" font-style="italic" textLength="5.83" lengthAdjust="spacingAndGlyphs" >β</text>
<text x="593.23" y="22.8" font-size="9.6" textLength="7.52" lengthAdjust="spacingAndGlyphs" >=</text>
<text x="602.76" y="22.8" font-size="9.6" textLength="4.26" lengthAdjust="spacingAndGlyphs" >1</text>
<text x="607.55" y="22.8" font-size="9.6" textLength="2.33" lengthAdjust="spacingAndGlyphs" >,</text>
<text x="611.55" y="22.8" font-size="9.6" font-style="italic" textLength="4.86" lengthAdjust="spacingAndGlyphs" >β</text>
<text x="616.31" y="24" font-size="6.9" textLength="4.38" lengthAdjust="spacingAndGlyphs" >2</text>
<text x="622.71" y="22.8" font-size="9.6" textLength="7.76" lengthAdjust="spacingAndGlyphs" >=</text>
<text x="631.85" y="22.8" font-size="9.6" textLength="9.71" lengthAdjust="spacingAndGlyphs" >10</text>
<line x1="448.13" y1="259.3" x2="448.13" y2="255.1" stroke="#000" stroke-width="0.45" />
<line x1="448.13" y1="42.75" x2="448.13" y2="46.95" stroke="#000" stroke-width="0.45" />
<text x="442.1" y="269" font-size="9.6" textLength="12.24" lengthAdjust="spacingAndGlyphs" >0.2</text>
<line x1="474.99" y1="259.3" x2="474.99" y2="255.1" stroke="#000" stroke-width="0.45" />
<line x1="474.99" y1="42.75" x2="474.99" y2="46.95" stroke="#000" stroke-width="0.45" />
<text x="468.88" y="269" font-size="9.6" textLength="12.24" lengthAdjust="spacingAndGlyphs" >0.3</text>
<line x1="501.84" y1="259.3" x2="501.84" y2="255.1" stroke="#000" stroke-width="0.45" />
<line x1="501.84" y1="42.75" x2="501.84" y2="46.95" stroke="#000" stroke-width="0.45" />
<text x="495.61" y="269" font-size="9.6" textLength="12.24" lengthAdjust="spacingAndGlyphs" >0.4</text>
<line x1="528.7" y1="259.3" x2="528.7" y2="255.1" stroke="#000" stroke-width="0.45" />
<line x1="528.7" y1="42.75" x2="528.7" y2="46.95" stroke="#000" stroke-width="0.45" />
<text x="522.59" y="269" font-size="9.6" textLength="12.24" lengthAdjust="spacingAndGlyphs" >0.5</text>
<line x1="555.55" y1="259.3" x2="555.55" y2="255.1" stroke="#000" stroke-width="0.45" />
<line x1="555.55" y1="42.75" x2="555.55" y2="46.95" stroke="#000" stroke-width="0.45" />
<text x="549.39" y="269" font-size="9.6" textLength="12.24" lengthAdjust="spacingAndGlyphs" >0.6</text>
<line x1="582.4" y1="259.3" x2="582.4" y2="255.1" stroke="#000" stroke-width="0.45" />
<line x1="582.4" y1="42.75" x2="582.4" y2="46.95" stroke="#000" stroke-width="0.45" />
<text x="576.25" y="269" font-size="9.6" textLength="12.24" lengthAdjust="spacingAndGlyphs" >0.7</text>
<line x1="609.26" y1="259.3" x2="609.26" y2="255.1" stroke="#000" stroke-width="0.45" />
<line x1="609.26" y1="42.75" x2="609.26" y2="46.95" stroke="#000" stroke-width="0.45" />
<text x="603.14" y="269" font-size="9.6" textLength="12.24" lengthAdjust="spacingAndGlyphs" >0.8</text>
<line x1="636.11" y1="259.3" x2="636.11" y2="255.1" stroke="#000" stroke-width="0.45" />
<line x1="636.11" y1="42.75" x2="636.11" y2="46.95" stroke="#000" stroke-width="0.45" />
<text x="630" y="269" font-size="9.6" textLength="12.24" lengthAdjust="spacingAndGlyphs" >0.9</text>
<line x1="662.97" y1="259.3" x2="662.97" y2="255.1" stroke="#000" stroke-width="0.45" />
<line x1="662.97" y1="42.75" x2="662.97" y2="46.95" stroke="#000" stroke-width="0.45" />
<text x="660.38" y="269" font-size="9.6" textLength="4.9" lengthAdjust="spacingAndGlyphs" >1</text>
<line x1="426.65" y1="241.25" x2="430.85" y2="241.25" stroke="#000" stroke-width="0.45" />
<line x1="684.45" y1="241.25" x2="680.25" y2="241.25" stroke="#000" stroke-width="0.45" />
<text x="410.95" y="244.85" font-size="9.6" textLength="12.24" lengthAdjust="spacingAndGlyphs" >0.6</text>
<line x1="426.65" y1="213.06" x2="430.85" y2="213.06" stroke="#000" stroke-width="0.45" />
<line x1="684.45" y1="213.06" x2="680.25" y2="213.06" stroke="#000" stroke-width="0.45" />
<text x="406.16" y="216.66" font-size="9.6" textLength="17.14" lengthAdjust="spacingAndGlyphs" >0.65</text>
<line x1="426.65" y1="184.86" x2="430.85" y2="184.86" stroke="#000" stroke-width="0.45" />
<line x1="684.45" y1="184.86" x2="680.25" y2="184.86" stroke="#000" stroke-width="0.45" />
<text x="410.95" y="188.46" font-size="9.6" textLength="12.24" lengthAdjust="spacingAndGlyphs" >0.7</text>
<line x1="426.65" y1="156.66" x2="430.85" y2="156.66" stroke="#000" stroke-width="0.45" />
<line x1="684.45" y1="156.66" x2="680.25" y2="156.66" stroke="#000" stroke-width="0.45" />
<text x="406.16" y="160.26" font-size="9.6" textLength="17.14" lengthAdjust="spacingAndGlyphs" >0.75</text>
<line x1="426.65" y1="128.47" x2="430.85" y2="128.47" stroke="#000" stroke-width="0.45" />
<line x1="684.45" y1="128.47" x2="680.25" y2="128.47" stroke="#000" stroke-width="0.45" />
<text x="411.03" y="132.07" font-size="9.6" textLength="12.24" lengthAdjust="spacingAndGlyphs" >0.8</text>
<line x1="426.65" y1="100.27" x2="430.85" y2="100.27" stroke="#000" stroke-width="0.45" />
<line x1="684.45" y1="100.27" x2="680.25" y2="100.27" stroke="#000" stroke-width="0.45" />
<text x="406.16" y="103.87" font-size="9.6" textLength="17.14" lengthAdjust="spacingAndGlyphs" >0.85</text>
<line x1="426.65" y1="72.07" x2="430.85" y2="72.07" stroke="#000" stroke-width="0.45" />
<line x1="684.45" y1="72.07" x2="680.25" y2="72.07" stroke="#000" stroke-width="0.45" />
<text x="411.05" y="75.67" font-size="9.6" textLength="12.24" lengthAdjust="spacingAndGlyphs" >0.9</text>
<line x1="426.65" y1="43.88" x2="430.85" y2="43.88" stroke="#000" stroke-width="0.45" />
<line x1="684.45" y1="43.88" x2="680.25" y2="43.88" stroke="#000" stroke-width="0.45" />
<text x="406.16" y="47.48" font-size="9.6" textLength="17.14" lengthAdjust="spacingAndGlyphs" >0.95</text>
<rect x="426.65" y="42.75" width="257.8" height="216.55" fill="none" stroke="#000" stroke-width="0.45"/>
<polyline points="448.13,151.02 474.99,151.02 501.84,139.75 528.7,117.19 555.55,105.91 582.4,83.35 595.83,72.07 598.52,60.8 609.26,72.07 622.69,83.35 636.11,105.91 662.97,241.25" fill="none" stroke="#0000ff" stroke-width="0.45"/>
<circle cx="448.13" cy="151.02" r="2.0" fill="#0000cc" stroke="#0000ff" stroke-width="0.45"/>
<circle cx="474.99" cy="151.02" r="2.0" fill="#0000cc" stroke="#0000ff" stroke-width="0.45"/>
<circle cx="501.84" cy="139.75" r="2.0" fill="#0000cc" stroke="#0000ff" stroke-width="0.45"/>
<circle cx="528.7" cy="117.19" r="2.0" fill="#0000cc" stroke="#0000ff" stroke-width="0.45"/>
<circle cx="555.55" cy="105.91" r="2.0" fill="#0000cc" stroke="#0000ff" stroke-width="0.45"/>
<circle cx="582.4" cy="83.35" r="2.0" fill="#0000cc" stroke="#0000ff" stroke-width="0.45"/>
<circle cx="595.83" cy="72.07" r="2.0" fill="#0000cc" stroke="#0000ff" stroke-width="0.45"/>
<circle cx="598.52" cy="60.8" r="2.0" fill="#0000cc" stroke="#0000ff" stroke-width="0.45"/>
<circle cx="609.26" cy="72.07" r="2.0" fill="#0000cc" stroke="#0000ff" stroke-width="0.45"/>
<circle cx="622.69" cy="83.35" r="2.0" fill="#0000cc" stroke="#0000ff" stroke-width="0.45"/>
<circle cx="636.11" cy="105.91" r="2.0" fill="#0000cc" stroke="#0000ff" stroke-width="0.45"/>
<circle cx="662.97" cy="241.25" r="2.0" fill="#0000cc" stroke="#0000ff" stroke-width="0.45"/>
<text x="513.79" y="282.5" font-size="9.8" textLength="83.16" lengthAdjust="spacingAndGlyphs" >Refinement fraction</text>
<text transform="translate(397.9,185.79) rotate(-90)" x="0" y="0" font-size="9.6" textLength="70.33" lengthAdjust="spacingAndGlyphs">convergance rate</text>
</svg>
</body></html>
